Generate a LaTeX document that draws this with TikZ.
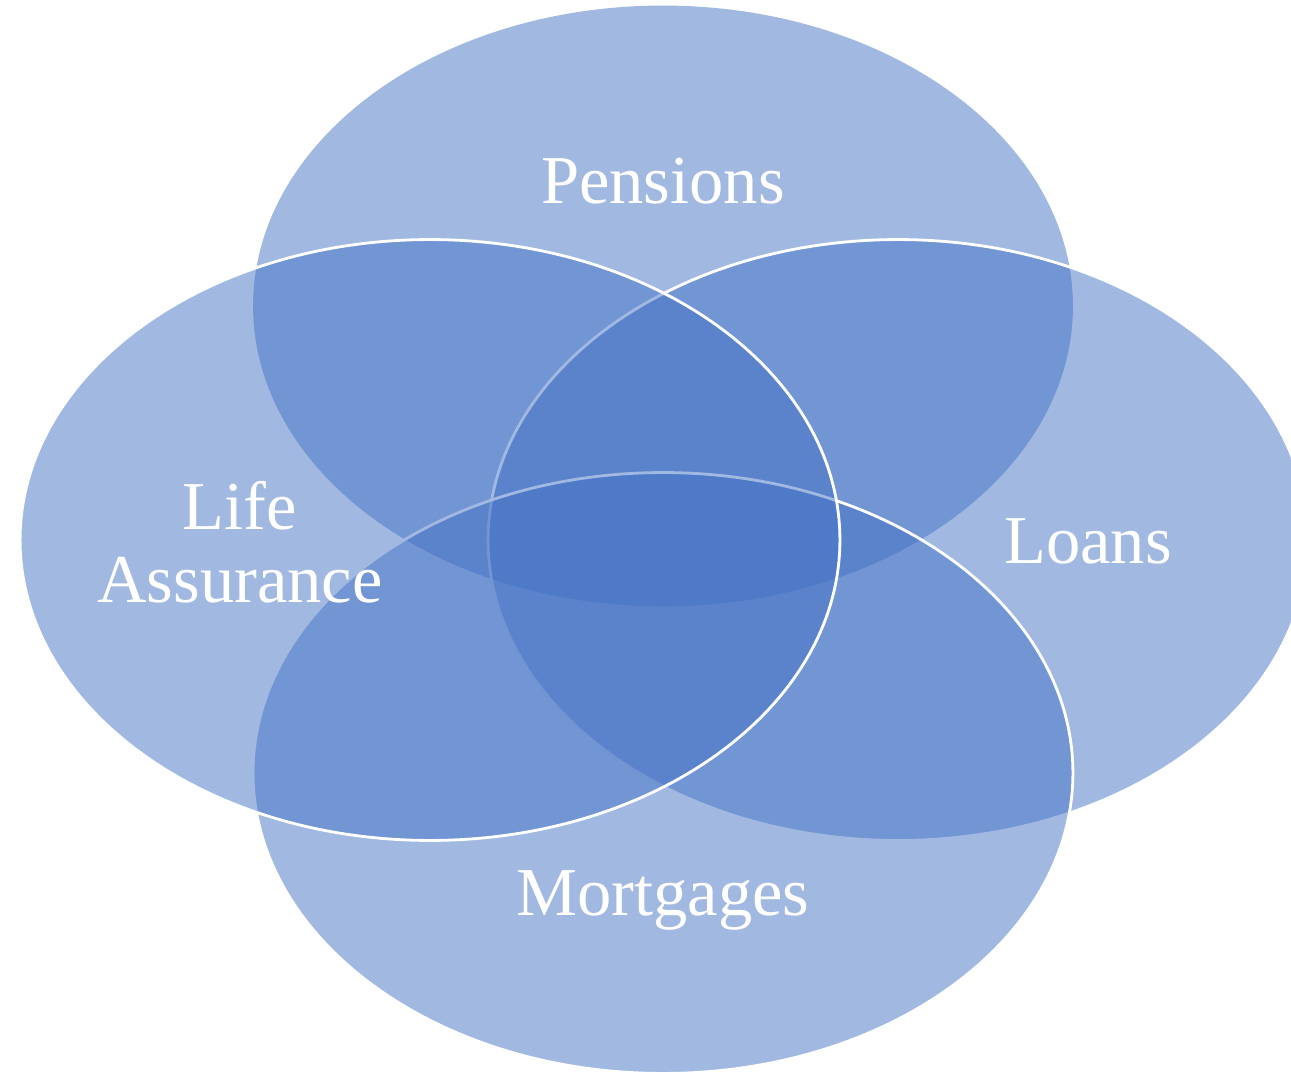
\documentclass[tikz,border=0pt]{standalone}
\usepackage{fontspec}
\setmainfont{Liberation Serif}
\usetikzlibrary{shapes.geometric}
\definecolor{vennblue}{HTML}{4472C4}
\tikzset{
  venn/.style={ellipse, fill=vennblue, fill opacity=0.5, minimum width=16.4cm, minimum height=12.02cm, inner sep=0pt, line width=1.6pt},
  vennline/.style={draw=white},
  lbl/.style={text=white, font=\fontsize{39}{41.5}\selectfont, align=center}
}
\begin{document}
\begin{tikzpicture}[x=0.02cm, y=-0.02cm]
\useasboundingbox (0,0) rectangle (1291,1074);
\clip (0,0) rectangle (1291,1074);
\node[venn] (pen) at (663,306) {};
\node[venn, vennline] (loa) at (898,540) {};
\node[venn, vennline] (mor) at (663,773) {};
\node[venn, vennline] (lif) at (430,540) {};
\node[lbl] (tpen) at (663,181) {Pensions};
\node[lbl] (tloa) at (1088,541) {Loans};
\node[lbl] (tmor) at (663,900) {Mortgages};
\node[lbl] (tlif) at (240,542) {Life\\Assurance};
\end{tikzpicture}
\end{document}
